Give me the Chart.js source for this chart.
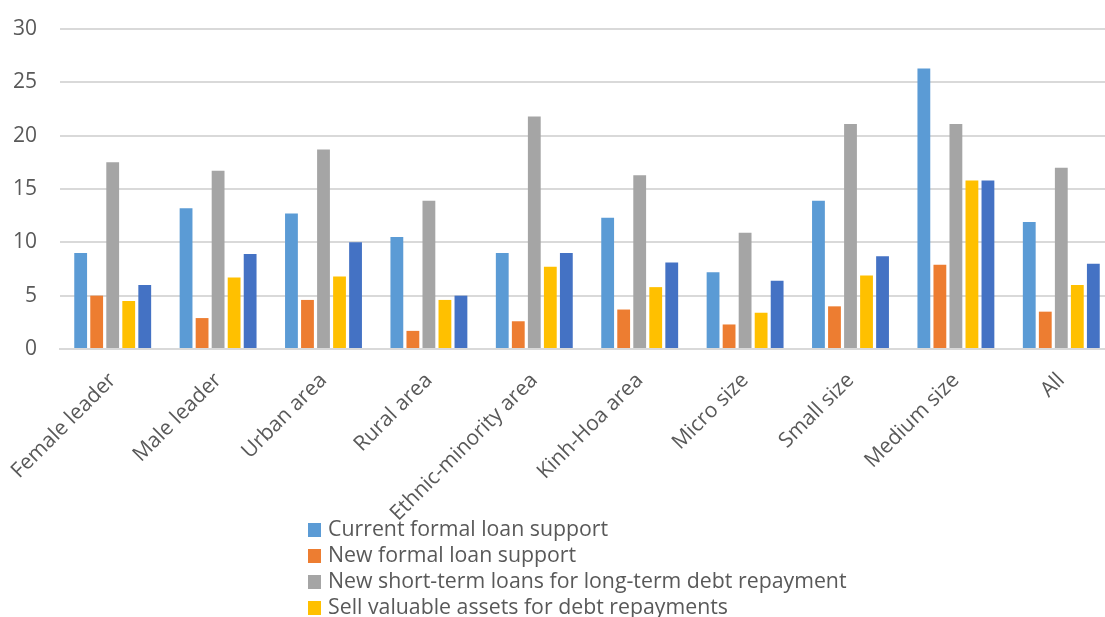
<!DOCTYPE html>
<html>
<head>
<meta charset="utf-8">
<title>Debt coping measures by firm group</title>
<script src="https://cdn.jsdelivr.net/npm/chart.js@4.4.1/dist/chart.umd.min.js"></script>
<style>
  html, body { margin: 0; padding: 0; background: #fff; overflow: hidden; width: 1105px; height: 617px; }
  #wrap { position: absolute; left: 0; top: 0; width: 1116px; height: 617px; }
  #legend { position: absolute; left: 308px; top: 515px; font-family: 'Open Sans', sans-serif; font-size: 21.3px; color: #595959; }
  .item { height: 26px; line-height: 26px; white-space: nowrap; }
  .swatch { display: inline-block; width: 13px; height: 14px; margin-right: 7px; vertical-align: -1px; }
</style>
</head>
<body>
<div id="wrap"><canvas id="chart" width="1116" height="617"></canvas></div>
<div id="legend"></div>
<script>
// groups of firms along the x axis
const categories = ['Female leader', 'Male leader', 'Urban area', 'Rural area', 'Ethnic-minority area',
  'Kinh-Hoa area', 'Micro size', 'Small size', 'Medium size', 'All'];

// share of firms (%) using each measure
const currentFormalLoan = [9.0, 13.2, 12.7, 10.5, 9.0, 12.3, 7.2, 13.9, 26.3, 11.9];
const newFormalLoan     = [5.0, 2.9, 4.6, 1.7, 2.6, 3.7, 2.3, 4.0, 7.9, 3.5];
const shortTermForLong  = [17.5, 16.7, 18.7, 13.9, 21.8, 16.3, 10.9, 21.1, 21.1, 17.0];
const sellAssets        = [4.5, 6.7, 6.8, 4.6, 7.7, 5.8, 3.4, 6.9, 15.8, 6.0];
const debtRescheduling  = [6.0, 8.9, 10.0, 5.0, 9.0, 8.1, 6.4, 8.7, 15.8, 8.0];

const seriesNames = [
  'Current formal loan support',
  'New formal loan support',
  'New short-term loans for long-term debt repayment',
  'Sell valuable assets for debt repayments',
  'Debt rescheduling with creditors'
];
const seriesColors = ['#5B9BD5', '#ED7D31', '#A5A5A5', '#FFC000', '#4472C4'];
const yTicks = [0, 5, 10, 15, 20, 25, 30];

const textColor = '#595959';
const gridColor = '#D9D9D9';
const font = { family: "'Open Sans', sans-serif", size: 21 };

const seriesValues = [currentFormalLoan, newFormalLoan, shortTermForLong, sellAssets, debtRescheduling];

const chart = new Chart(document.getElementById('chart'), {
  type: 'bar',
  data: {
    labels: categories,
    datasets: seriesValues.map((vals, i) => ({
      label: seriesNames[i],
      data: vals,
      backgroundColor: seriesColors[i],
      categoryPercentage: 0.76,
      barPercentage: 0.8
    }))
  },
  options: {
    responsive: false,
    animation: false,
    layout: { padding: { top: 29, right: 2, left: 0, bottom: 0 } },
    plugins: { legend: { display: false }, tooltip: { enabled: false } },
    scales: {
      x: {
        grid: { display: false },
        border: { color: gridColor, width: 2 },
        ticks: { color: textColor, font, minRotation: 45, maxRotation: 45, padding: 11, autoSkip: false },
        afterFit: axis => { axis.height = 268; }
      },
      y: {
        min: 0,
        max: 30,
        border: { display: false },
        // invisible tick marks keep the labels clear of the plot without padding the top
        grid: { color: gridColor, lineWidth: 2, drawTicks: true, tickLength: 23, tickColor: 'rgba(0,0,0,0)' },
        afterBuildTicks: axis => { axis.ticks = yTicks.map(v => ({ value: v })); },
        ticks: { color: textColor, font, padding: 0 },
        afterFit: axis => { axis.width = 60; }
      }
    }
  }
});

// legend listed vertically below the plot
const legend = document.getElementById('legend');
chart.data.datasets.forEach(ds => {
  const row = document.createElement('div');
  row.className = 'item';
  row.innerHTML = `<span class="swatch" style="background:${ds.backgroundColor}"></span>${ds.label}`;
  legend.appendChild(row);
});
</script>
</body>
</html>
